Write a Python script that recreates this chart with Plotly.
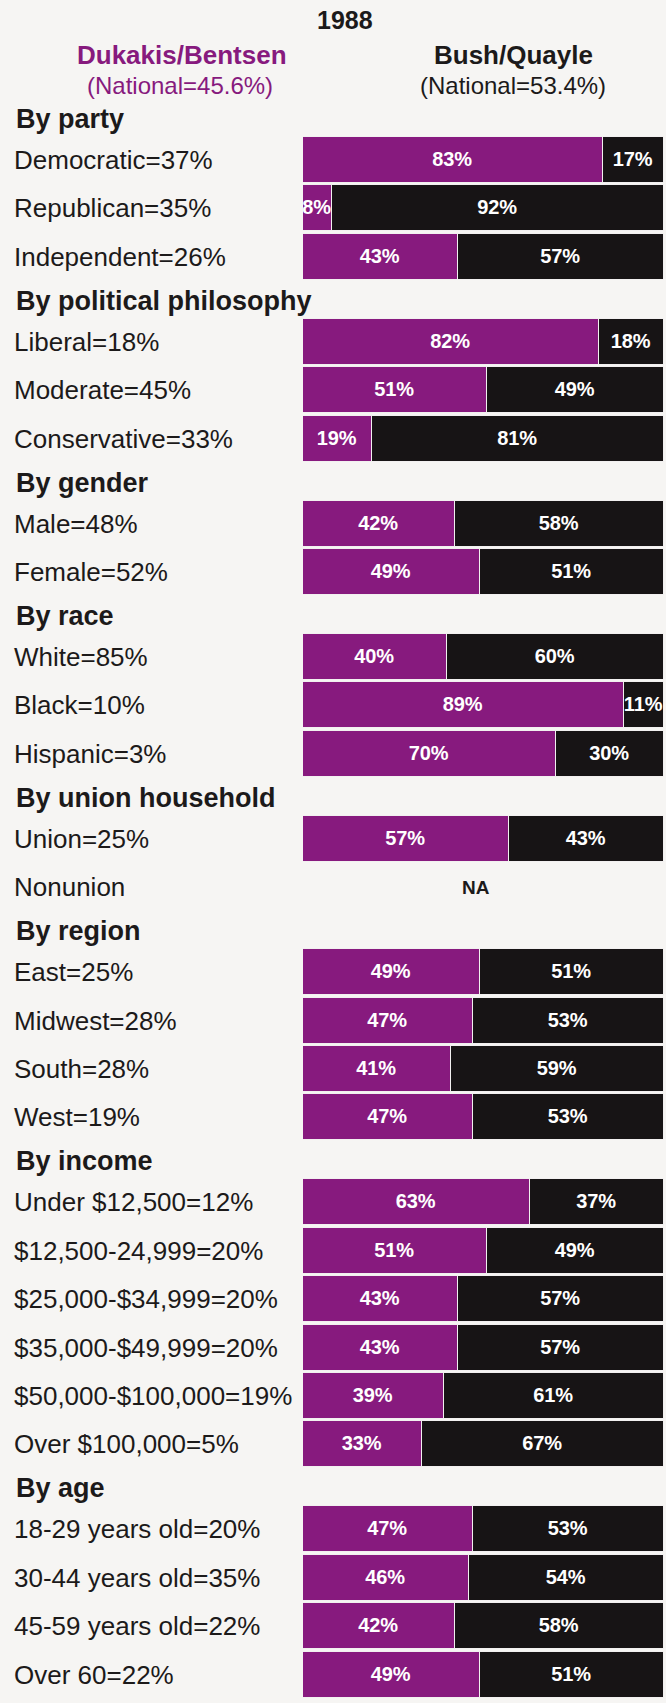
import plotly.graph_objects as go

# --- data ---
group_names = [
    "By party", "By political philosophy", "By gender", "By race",
    "By union household", "By region", "By income", "By age",
]
group_sizes = [3, 3, 2, 3, 2, 4, 6, 4]

row_labels = [
    "Democratic=37%", "Republican=35%", "Independent=26%",
    "Liberal=18%", "Moderate=45%", "Conservative=33%",
    "Male=48%", "Female=52%",
    "White=85%", "Black=10%", "Hispanic=3%",
    "Union=25%", "Nonunion",
    "East=25%", "Midwest=28%", "South=28%", "West=19%",
    "Under $12,500=12%", "$12,500-24,999=20%", "$25,000-$34,999=20%",
    "$35,000-$49,999=20%", "$50,000-$100,000=19%", "Over $100,000=5%",
    "18-29 years old=20%", "30-44 years old=35%", "45-59 years old=22%",
    "Over 60=22%",
]
dukakis_pct = [83, 8, 43, 82, 51, 19, 42, 49, 40, 89, 70, 57, None,
               49, 47, 41, 47, 63, 51, 43, 43, 39, 33, 47, 46, 42, 49]
bush_pct = [17, 92, 57, 18, 49, 81, 58, 51, 60, 11, 30, 43, None,
            51, 53, 59, 53, 37, 49, 57, 57, 61, 67, 53, 54, 58, 51]

year = "1988"
dem_ticket, dem_national = "Dukakis/Bentsen", "(National=45.6%)"
rep_ticket, rep_national = "Bush/Quayle", "(National=53.4%)"

# --- layout constants (pixels, y axis runs 1:1 with the page) ---
W, H = 666, 1703
PURPLE = "#871a7e"
BLACK = "#171415"
BG = "#f6f5f3"
TEXT = "#1c1a1a"
FONT = "Liberation Sans, Arial, sans-serif"

first_row = 160
pitch = 48.4
group_gap = 85
header_offset = -41

row_y, header_y = [], []
y = first_row
for size in group_sizes:
    header_y.append(y + header_offset)
    for i in range(size):
        row_y.append(y)
        if i < size - 1:
            y += pitch
    y += group_gap

fig = go.Figure()

for vals, color in [(dukakis_pct, PURPLE), (bush_pct, BLACK)]:
    fig.add_trace(go.Bar(
        x=vals,
        y=row_y,
        orientation="h",
        width=46,
        marker=dict(color=color, line=dict(color="#f2f0f0", width=1.5)),
        texttemplate="%{x}%",
        textposition="inside",
        insidetextanchor="middle",
        textangle=0,
        constraintext="none",
        textfont=dict(family=FONT, size=20, color="white", weight="bold"),
        hoverinfo="skip",
        showlegend=False,
    ))

annotations = []
for label, yy in zip(row_labels, row_y):
    annotations.append(dict(
        text=label, x=12 / W, xref="paper", y=yy, yref="y",
        xanchor="left", yanchor="middle", showarrow=False,
        font=dict(family=FONT, size=26, color=TEXT),
    ))
for name, yy in zip(group_names, header_y):
    annotations.append(dict(
        text=name, x=14 / W, xref="paper", y=yy, yref="y",
        xanchor="left", yanchor="middle", showarrow=False,
        font=dict(family=FONT, size=27, color=TEXT, weight="bold"),
    ))

# rows without data get an NA marker in the middle of the bar span
for d, yy in zip(dukakis_pct, row_y):
    if d is None:
        annotations.append(dict(
            text="NA", x=48, xref="x", y=yy, yref="y",
            xanchor="center", yanchor="middle", showarrow=False,
            font=dict(family=FONT, size=19, color=TEXT, weight="bold"),
        ))

# header block
annotations += [
    dict(text=year, x=345 / W, y=20, font=dict(size=25, color=TEXT, weight="bold")),
    dict(text=dem_ticket, x=182 / W, y=55, font=dict(size=26, color=PURPLE, weight="bold")),
    dict(text=dem_national, x=180 / W, y=85, font=dict(size=24, color=PURPLE)),
    dict(text=rep_ticket, x=513 / W, y=55, font=dict(size=26, color=TEXT, weight="bold")),
    dict(text=rep_national, x=513 / W, y=85, font=dict(size=24, color=TEXT)),
]
for a in annotations[-5:]:
    a.update(xref="paper", yref="y", xanchor="center", yanchor="middle", showarrow=False)
    a["font"]["family"] = FONT

fig.update_layout(
    width=W,
    height=H,
    autosize=False,
    margin=dict(l=0, r=0, t=0, b=0),
    paper_bgcolor=BG,
    plot_bgcolor=BG,
    barmode="stack",
    bargap=0,
    xaxis=dict(domain=[303 / W, 664 / W], range=[0, 100], visible=False, fixedrange=True),
    yaxis=dict(range=[H, 0], visible=False, fixedrange=True),
    annotations=annotations,
)

# drop the default page margin so the figure sits flush with the window
fig.write_html(
    "out.html",
    config={"displayModeBar": False},
    post_script="document.body.style.margin='0';",
)
